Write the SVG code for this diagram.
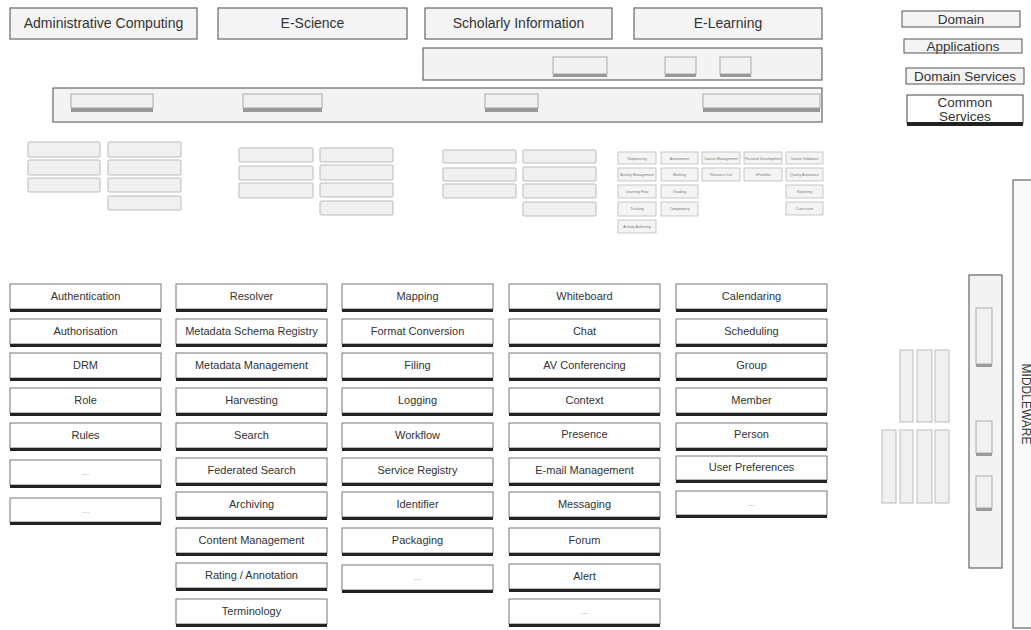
<svg xmlns="http://www.w3.org/2000/svg" width="1031" height="630" viewBox="0 0 1031 630">
<style>
text{font-family:"Liberation Sans",Arial,sans-serif;fill:#333;text-anchor:middle}
.dom{fill:#f4f4f4;stroke:#666;stroke-width:1.2}
.dt{font-size:14px}
.bar{fill:#f3f3f3;stroke:#666;stroke-width:1.2}
.ib{fill:#f1f1f1;stroke:#aaa;stroke-width:1}
.ibb{fill:#999}
.sb{fill:#f0f0f0;stroke:#bbb;stroke-width:1}
.tb{fill:#f4f4f4;stroke:#bbb;stroke-width:0.8}
.tt{font-size:3.6px;fill:#777}
.cs{fill:#fff;stroke:#777;stroke-width:1}
.csb{fill:#222}
.ct{font-size:11px}
.el{font-size:9px;fill:#aaa}
.lg{fill:#f4f4f4;stroke:#555;stroke-width:1}
.lt{font-size:13.5px}
.vb{fill:#f0f0f0;stroke:#bbb;stroke-width:1}
</style>

<g id="domains">
<g id="admin"><rect class="dom" x="10" y="8" width="187" height="31"/><text class="dt" x="103.5" y="28">Administrative Computing</text></g>
<g id="escience"><rect class="dom" x="218" y="8" width="189" height="31"/><text class="dt" x="312.5" y="28">E-Science</text></g>
<g id="scholarly"><rect class="dom" x="425" y="8" width="187" height="31"/><text class="dt" x="518.5" y="28">Scholarly Information</text></g>
<g id="elearning"><rect class="dom" x="634" y="8" width="188" height="31"/><text class="dt" x="728" y="28">E-Learning</text></g>
</g>

<g id="applications">
<rect class="bar" x="423" y="48" width="399" height="32"/>
<rect class="ib" x="553" y="57" width="54" height="17"/><rect class="ibb" x="553" y="74" width="54" height="3"/>
<rect class="ib" x="665" y="57" width="31" height="17"/><rect class="ibb" x="665" y="74" width="31" height="3"/>
<rect class="ib" x="720" y="57" width="31" height="17"/><rect class="ibb" x="720" y="74" width="31" height="3"/>
</g>

<g id="domain-services">
<rect class="bar" x="53" y="88" width="769" height="34"/>
<rect class="ib" x="71" y="94" width="82" height="14"/><rect class="ibb" x="71" y="108" width="82" height="4"/>
<rect class="ib" x="243" y="94" width="79" height="14"/><rect class="ibb" x="243" y="108" width="79" height="4"/>
<rect class="ib" x="485" y="94" width="53" height="14"/><rect class="ibb" x="485" y="108" width="53" height="4"/>
<rect class="ib" x="703" y="94" width="117" height="14"/><rect class="ibb" x="703" y="108" width="117" height="4"/>
</g>

<g id="admin-services">
<rect class="sb" x="28" y="142" width="72" height="15" rx="1"/>
<rect class="sb" x="28" y="160" width="72" height="15" rx="1"/>
<rect class="sb" x="28" y="178" width="72" height="14" rx="1"/>
<rect class="sb" x="108" y="142" width="73" height="15" rx="1"/>
<rect class="sb" x="108" y="160" width="73" height="15" rx="1"/>
<rect class="sb" x="108" y="178" width="73" height="14" rx="1"/>
<rect class="sb" x="108" y="196" width="73" height="14" rx="1"/>
</g>

<g id="escience-services">
<rect class="sb" x="239" y="148" width="74" height="14" rx="1"/>
<rect class="sb" x="239" y="166" width="74" height="14" rx="1"/>
<rect class="sb" x="239" y="183" width="74" height="15" rx="1"/>
<rect class="sb" x="320" y="148" width="73" height="14" rx="1"/>
<rect class="sb" x="320" y="165" width="73" height="15" rx="1"/>
<rect class="sb" x="320" y="183" width="73" height="14" rx="1"/>
<rect class="sb" x="320" y="201" width="73" height="14" rx="1"/>
</g>

<g id="scholarly-services">
<rect class="sb" x="443" y="150" width="73" height="13" rx="1"/>
<rect class="sb" x="443" y="168" width="73" height="13" rx="1"/>
<rect class="sb" x="443" y="184" width="73" height="14" rx="1"/>
<rect class="sb" x="523" y="150" width="73" height="13" rx="1"/>
<rect class="sb" x="523" y="167" width="73" height="14" rx="1"/>
<rect class="sb" x="523" y="184" width="73" height="14" rx="1"/>
<rect class="sb" x="523" y="202" width="73" height="14" rx="1"/>
</g>

<g id="elearning-services">
<rect class="tb" x="618" y="152" width="38" height="12"/><text class="tt" x="637" y="159.5">Sequencing</text>
<rect class="tb" x="618" y="168" width="38" height="13"/><text class="tt" x="637" y="176">Activity Management</text>
<rect class="tb" x="618" y="185" width="38" height="13"/><text class="tt" x="637" y="193">Learning Flow</text>
<rect class="tb" x="618" y="202" width="38" height="14"/><text class="tt" x="637" y="210">Tracking</text>
<rect class="tb" x="618" y="220" width="38" height="13"/><text class="tt" x="637" y="228">Activity Authoring</text>
<rect class="tb" x="661" y="152" width="37" height="12"/><text class="tt" x="679.5" y="159.5">Assessment</text>
<rect class="tb" x="661" y="168" width="37" height="13"/><text class="tt" x="679.5" y="176">Marking</text>
<rect class="tb" x="661" y="185" width="37" height="13"/><text class="tt" x="679.5" y="193">Grading</text>
<rect class="tb" x="661" y="202" width="37" height="14"/><text class="tt" x="679.5" y="210">Competency</text>
<rect class="tb" x="702" y="152" width="38" height="12"/><text class="tt" x="721" y="159.5">Course Management</text>
<rect class="tb" x="702" y="168" width="38" height="13"/><text class="tt" x="721" y="176">Resource List</text>
<rect class="tb" x="744" y="152" width="38" height="12"/><text class="tt" x="763" y="159.5">Personal Development</text>
<rect class="tb" x="744" y="168" width="38" height="13"/><text class="tt" x="763" y="176">ePortfolio</text>
<rect class="tb" x="786" y="152" width="37" height="12"/><text class="tt" x="804.5" y="159.5">Course Validation</text>
<rect class="tb" x="786" y="168" width="37" height="13"/><text class="tt" x="804.5" y="176">Quality Assurance</text>
<rect class="tb" x="786" y="185" width="37" height="13"/><text class="tt" x="804.5" y="193">Reporting</text>
<rect class="tb" x="786" y="202" width="37" height="13"/><text class="tt" x="804.5" y="210">Curriculum</text>
</g>

<g id="legend">
<g id="lg-domain"><rect class="lg" x="902" y="11" width="118" height="16"/><text class="lt" x="961" y="24">Domain</text></g>
<g id="lg-apps"><rect class="lg" x="904" y="39" width="118" height="14"/><text class="lt" x="963" y="51">Applications</text></g>
<g id="lg-ds"><rect class="lg" x="906" y="68" width="118" height="16"/><text class="lt" x="965" y="81">Domain Services</text></g>
<g id="lg-cs"><rect x="907" y="95" width="116" height="28" fill="#fff" stroke="#444" stroke-width="1"/><rect x="907" y="122" width="116" height="4" fill="#222"/><text class="lt" x="965" y="107">Common</text><text class="lt" x="965" y="121">Services</text></g>
</g>

<g id="common-services">
<g id="c1">
<rect class="cs" x="10" y="284" width="151" height="25"/><rect class="csb" x="10" y="309" width="151" height="3"/><text class="ct" x="85.5" y="300">Authentication</text>
<rect class="cs" x="10" y="319" width="151" height="25"/><rect class="csb" x="10" y="344" width="151" height="3"/><text class="ct" x="85.5" y="335">Authorisation</text>
<rect class="cs" x="10" y="353" width="151" height="25"/><rect class="csb" x="10" y="378" width="151" height="3"/><text class="ct" x="85.5" y="369">DRM</text>
<rect class="cs" x="10" y="388" width="151" height="25"/><rect class="csb" x="10" y="413" width="151" height="3"/><text class="ct" x="85.5" y="404">Role</text>
<rect class="cs" x="10" y="423" width="151" height="25"/><rect class="csb" x="10" y="448" width="151" height="3"/><text class="ct" x="85.5" y="439">Rules</text>
<rect class="cs" x="10" y="460" width="151" height="25"/><rect class="csb" x="10" y="485" width="151" height="3"/><text class="el" x="85.5" y="475">...</text>
<rect class="cs" x="10" y="498" width="151" height="24"/><rect class="csb" x="10" y="522" width="151" height="3"/><text class="el" x="85.5" y="513">...</text>
</g>
<g id="c2">
<rect class="cs" x="176" y="284" width="151" height="25"/><rect class="csb" x="176" y="309" width="151" height="3"/><text class="ct" x="251.5" y="300">Resolver</text>
<rect class="cs" x="176" y="319" width="151" height="25"/><rect class="csb" x="176" y="344" width="151" height="3"/><text class="ct" x="251.5" y="335">Metadata Schema Registry</text>
<rect class="cs" x="176" y="353" width="151" height="25"/><rect class="csb" x="176" y="378" width="151" height="3"/><text class="ct" x="251.5" y="369">Metadata Management</text>
<rect class="cs" x="176" y="388" width="151" height="25"/><rect class="csb" x="176" y="413" width="151" height="3"/><text class="ct" x="251.5" y="404">Harvesting</text>
<rect class="cs" x="176" y="423" width="151" height="25"/><rect class="csb" x="176" y="448" width="151" height="3"/><text class="ct" x="251.5" y="439">Search</text>
<rect class="cs" x="176" y="458" width="151" height="25"/><rect class="csb" x="176" y="483" width="151" height="3"/><text class="ct" x="251.5" y="474">Federated Search</text>
<rect class="cs" x="176" y="492" width="151" height="25"/><rect class="csb" x="176" y="517" width="151" height="3"/><text class="ct" x="251.5" y="508">Archiving</text>
<rect class="cs" x="176" y="528" width="151" height="25"/><rect class="csb" x="176" y="553" width="151" height="3"/><text class="ct" x="251.5" y="544">Content Management</text>
<rect class="cs" x="176" y="563" width="151" height="25"/><rect class="csb" x="176" y="588" width="151" height="3"/><text class="ct" x="251.5" y="579">Rating / Annotation</text>
<rect class="cs" x="176" y="599" width="151" height="25"/><rect class="csb" x="176" y="624" width="151" height="3"/><text class="ct" x="251.5" y="615">Terminology</text>
</g>
<g id="c3">
<rect class="cs" x="342" y="284" width="151" height="25"/><rect class="csb" x="342" y="309" width="151" height="3"/><text class="ct" x="417.5" y="300">Mapping</text>
<rect class="cs" x="342" y="319" width="151" height="25"/><rect class="csb" x="342" y="344" width="151" height="3"/><text class="ct" x="417.5" y="335">Format Conversion</text>
<rect class="cs" x="342" y="353" width="151" height="25"/><rect class="csb" x="342" y="378" width="151" height="3"/><text class="ct" x="417.5" y="369">Filing</text>
<rect class="cs" x="342" y="388" width="151" height="25"/><rect class="csb" x="342" y="413" width="151" height="3"/><text class="ct" x="417.5" y="404">Logging</text>
<rect class="cs" x="342" y="423" width="151" height="25"/><rect class="csb" x="342" y="448" width="151" height="3"/><text class="ct" x="417.5" y="439">Workflow</text>
<rect class="cs" x="342" y="458" width="151" height="25"/><rect class="csb" x="342" y="483" width="151" height="3"/><text class="ct" x="417.5" y="474">Service Registry</text>
<rect class="cs" x="342" y="492" width="151" height="25"/><rect class="csb" x="342" y="517" width="151" height="3"/><text class="ct" x="417.5" y="508">Identifier</text>
<rect class="cs" x="342" y="528" width="151" height="25"/><rect class="csb" x="342" y="553" width="151" height="3"/><text class="ct" x="417.5" y="544">Packaging</text>
<rect class="cs" x="342" y="565" width="151" height="25"/><rect class="csb" x="342" y="590" width="151" height="3"/><text class="el" x="417.5" y="580">...</text>
</g>
<g id="c4">
<rect class="cs" x="509" y="284" width="151" height="25"/><rect class="csb" x="509" y="309" width="151" height="3"/><text class="ct" x="584.5" y="300">Whiteboard</text>
<rect class="cs" x="509" y="319" width="151" height="25"/><rect class="csb" x="509" y="344" width="151" height="3"/><text class="ct" x="584.5" y="335">Chat</text>
<rect class="cs" x="509" y="353" width="151" height="25"/><rect class="csb" x="509" y="378" width="151" height="3"/><text class="ct" x="584.5" y="369">AV Conferencing</text>
<rect class="cs" x="509" y="388" width="151" height="25"/><rect class="csb" x="509" y="413" width="151" height="3"/><text class="ct" x="584.5" y="404">Context</text>
<rect class="cs" x="509" y="423" width="151" height="25"/><rect class="csb" x="509" y="448" width="151" height="3"/><text class="ct" x="584.5" y="438">Presence</text>
<rect class="cs" x="509" y="458" width="151" height="25"/><rect class="csb" x="509" y="483" width="151" height="3"/><text class="ct" x="584.5" y="474">E-mail Management</text>
<rect class="cs" x="509" y="492" width="151" height="25"/><rect class="csb" x="509" y="517" width="151" height="3"/><text class="ct" x="584.5" y="508">Messaging</text>
<rect class="cs" x="509" y="528" width="151" height="25"/><rect class="csb" x="509" y="553" width="151" height="3"/><text class="ct" x="584.5" y="544">Forum</text>
<rect class="cs" x="509" y="564" width="151" height="25"/><rect class="csb" x="509" y="589" width="151" height="3"/><text class="ct" x="584.5" y="580">Alert</text>
<rect class="cs" x="509" y="599" width="151" height="25"/><rect class="csb" x="509" y="624" width="151" height="3"/><text class="el" x="584.5" y="614">...</text>
</g>
<g id="c5">
<rect class="cs" x="676" y="284" width="151" height="25"/><rect class="csb" x="676" y="309" width="151" height="3"/><text class="ct" x="751.5" y="300">Calendaring</text>
<rect class="cs" x="676" y="319" width="151" height="25"/><rect class="csb" x="676" y="344" width="151" height="3"/><text class="ct" x="751.5" y="335">Scheduling</text>
<rect class="cs" x="676" y="353" width="151" height="25"/><rect class="csb" x="676" y="378" width="151" height="3"/><text class="ct" x="751.5" y="369">Group</text>
<rect class="cs" x="676" y="388" width="151" height="25"/><rect class="csb" x="676" y="413" width="151" height="3"/><text class="ct" x="751.5" y="404">Member</text>
<rect class="cs" x="676" y="423" width="151" height="25"/><rect class="csb" x="676" y="448" width="151" height="3"/><text class="ct" x="751.5" y="438">Person</text>
<rect class="cs" x="676" y="456" width="151" height="24"/><rect class="csb" x="676" y="480" width="151" height="3"/><text class="ct" x="751.5" y="471">User Preferences</text>
<rect class="cs" x="676" y="491" width="151" height="24"/><rect class="csb" x="676" y="515" width="151" height="3"/><text class="el" x="751.5" y="506">...</text>
</g>
</g>

<g id="vertical-services">
<rect class="vb" x="900" y="350" width="13" height="72"/>
<rect class="vb" x="917" y="350" width="15" height="72"/>
<rect class="vb" x="935" y="350" width="14" height="72"/>
<rect class="vb" x="882" y="430" width="14" height="73"/>
<rect class="vb" x="900" y="430" width="13" height="73"/>
<rect class="vb" x="917" y="430" width="15" height="73"/>
<rect class="vb" x="935" y="430" width="14" height="73"/>
</g>

<g id="middleware-bar">
<rect class="bar" x="969" y="275" width="33" height="293"/>
<rect class="ib" x="976" y="308" width="16" height="56"/><rect class="ibb" x="976" y="364" width="16" height="3"/>
<rect class="ib" x="976" y="421" width="16" height="32"/><rect class="ibb" x="976" y="453" width="16" height="3"/>
<rect class="ib" x="976" y="476" width="16" height="32"/><rect class="ibb" x="976" y="508" width="16" height="3"/>
</g>

<g id="middleware">
<rect x="1013" y="180" width="30" height="448" fill="#fafafa" stroke="#666" stroke-width="1.2"/>
<text x="1022" y="404" font-size="12" transform="rotate(90 1022 404)">MIDDLEWARE</text>
</g>

<g id="connectors"></g>
</svg>
